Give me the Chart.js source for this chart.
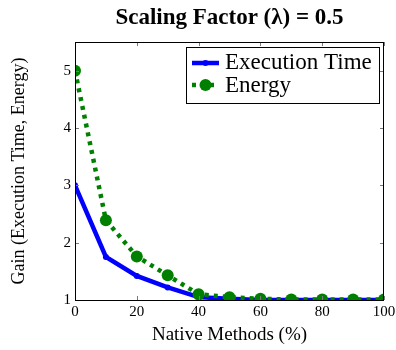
<!DOCTYPE html>
<html>
<head>
<meta charset="utf-8">
<script src="https://cdn.jsdelivr.net/npm/chart.js@4"></script>
<style>
  html, body { margin: 0; padding: 0; background: #fff; }
  #wrap { width: 396px; height: 350px; }
</style>
</head>
<body>
<div id="wrap"><canvas id="gainChart"></canvas></div>
<script>
const nativeMethods = [0, 10, 20, 30, 40, 50, 60, 70, 80, 90, 100];
const executionTime = [3.0, 1.75, 1.42, 1.22, 1.05, 1.02, 1.0, 1.0, 1.0, 1.0, 1.0];
const energy = [5.0, 2.39, 1.76, 1.43, 1.1, 1.05, 1.02, 1.01, 1.01, 1.01, 1.01];
const xTicks = [0, 20, 40, 60, 80, 100];
const yTicks = [1, 2, 3, 4, 5];

const titleText = 'Scaling Factor (\u03bb) = 0.5';
const serif = '"Liberation Serif", "Times New Roman", serif';

const blue = '#0000ff';
const green = '#008000';

// title centred over the plot, inward ticks on all four sides, legend inside the plot
const framePlugin = {
  id: 'frame',
  afterDraw(chart) {
    const { ctx, chartArea: a, scales } = chart;
    ctx.save();

    ctx.fillStyle = '#000';
    ctx.font = `bold 23px ${serif}`;
    ctx.textAlign = 'center';
    ctx.textBaseline = 'alphabetic';
    ctx.fillText(titleText, (a.left + a.right) / 2, 24);

    ctx.strokeStyle = '#7a7a7a';
    ctx.lineWidth = 1;
    ctx.beginPath();
    xTicks.forEach(v => {
      const x = Math.round(scales.x.getPixelForValue(v)) + 0.5;
      ctx.moveTo(x, a.bottom); ctx.lineTo(x, a.bottom - 4);
      ctx.moveTo(x, a.top); ctx.lineTo(x, a.top + 4);
    });
    yTicks.forEach(v => {
      const y = Math.round(scales.y.getPixelForValue(v)) + 0.5;
      ctx.moveTo(a.left, y); ctx.lineTo(a.left + 4, y);
      ctx.moveTo(a.right, y); ctx.lineTo(a.right - 4, y);
    });
    ctx.stroke();

    ctx.strokeStyle = '#000';
    ctx.strokeRect(Math.round(a.left) + 0.5, Math.round(a.top) + 0.5,
      Math.round(a.right - a.left) - 1, Math.round(a.bottom - a.top));

    // legend box
    const lx = 186, ly = 47, lw = 193, lh = 56;
    ctx.fillStyle = '#fff';
    ctx.fillRect(lx, ly, lw, lh);
    ctx.strokeRect(lx + 0.5, ly + 0.5, lw, lh);

    ctx.lineWidth = 4.5;
    ctx.strokeStyle = blue;
    ctx.beginPath(); ctx.moveTo(192, 63); ctx.lineTo(219, 63); ctx.stroke();
    ctx.fillStyle = blue;
    ctx.beginPath(); ctx.arc(205.5, 63, 3, 0, Math.PI * 2); ctx.fill();

    ctx.strokeStyle = green;
    ctx.setLineDash([4, 5]);
    ctx.beginPath(); ctx.moveTo(192, 85); ctx.lineTo(219, 85); ctx.stroke();
    ctx.setLineDash([]);
    ctx.fillStyle = green;
    ctx.beginPath(); ctx.arc(205.5, 85, 6, 0, Math.PI * 2); ctx.fill();

    ctx.fillStyle = '#000';
    ctx.font = `23px ${serif}`;
    ctx.textAlign = 'left';
    ctx.textBaseline = 'middle';
    ctx.fillText('Execution Time', 225, 63);
    ctx.fillText('Energy', 225, 86);
    ctx.restore();
  },
};

new Chart(document.getElementById('gainChart'), {
  type: 'line',
  data: {
    labels: nativeMethods,
    datasets: [
      {
        label: 'Execution Time',
        data: executionTime,
        borderColor: blue,
        backgroundColor: blue,
        borderWidth: 4.5,
        pointRadius: 3,
        pointBorderWidth: 0,
        tension: 0,
        order: 1,
      },
      {
        label: 'Energy',
        data: energy,
        borderColor: green,
        backgroundColor: green,
        borderWidth: 4.5,
        borderDash: [4, 5],
        pointRadius: 6,
        pointBorderWidth: 0,
        tension: 0,
        order: 0,
      },
    ],
  },
  options: {
    responsive: true,
    maintainAspectRatio: false,
    animation: false,
    layout: { padding: { top: 42, right: 0, left: 0, bottom: 0 } },
    scales: {
      x: {
        type: 'linear',
        min: 0,
        max: 100,
        afterBuildTicks: scale => { scale.ticks = xTicks.map(value => ({ value })); },
        afterFit: scale => { scale.height = 50; scale.paddingRight = 12; },
        grid: { display: false, drawTicks: false },
        border: { display: false },
        ticks: { color: '#000', font: { family: serif, size: 15 }, padding: 3, maxRotation: 0 },
        title: { display: true, text: 'Native Methods (%)', color: '#000', font: { family: serif, size: 19 }, padding: { top: 4 } },
      },
      y: {
        min: 1,
        max: 5.5,
        afterBuildTicks: scale => { scale.ticks = yTicks.map(value => ({ value })); },
        afterFit: scale => { scale.width = 75; },
        grid: { display: false, drawTicks: false },
        border: { display: false },
        ticks: { color: '#000', font: { family: serif, size: 15 }, padding: 4 },
        title: { display: true, text: 'Gain (Execution Time, Energy)', color: '#000', font: { family: serif, size: 18 }, padding: { top: 8, bottom: 6 } },
      },
    },
    plugins: {
      legend: { display: false },
      tooltip: { enabled: false },
    },
  },
  plugins: [framePlugin],
});
</script>
</body>
</html>
